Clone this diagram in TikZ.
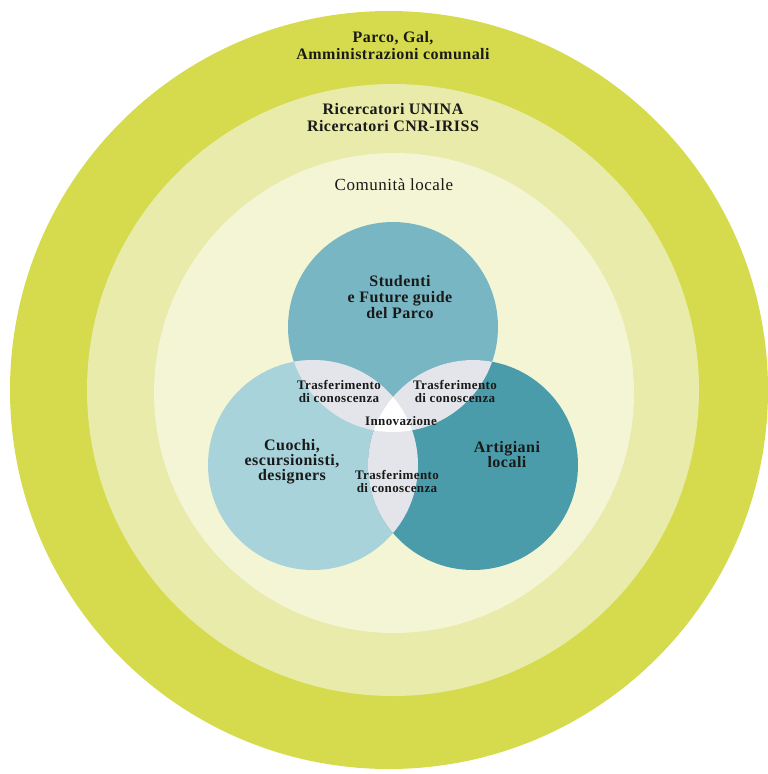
\documentclass[tikz,border=0pt]{standalone}
\usepackage{fontspec}
\setmainfont{Liberation Serif}[LetterSpace=3]
\usepackage{tikz}
\usetikzlibrary{positioning}
\definecolor{ringout}{HTML}{D5DB4D}
\definecolor{ringmid}{HTML}{E8EBA9}
\definecolor{ringin}{HTML}{F3F5D5}
\definecolor{studc}{HTML}{79B6C3}
\definecolor{cuoc}{HTML}{A8D3DB}
\definecolor{artc}{HTML}{4B9CAA}
\definecolor{lensc}{HTML}{E3E5EA}
\newcommand{\vennr}{105pt}
\newcommand{\bigf}{\fontsize{16}{17}\selectfont}
\newcommand{\smallf}{\fontsize{13}{13}\selectfont}

\begin{document}
\begin{tikzpicture}[x=1pt,y=-1pt]
            \tikzset{lab/.style = {align=center, inner sep=0pt, text=black!90, font=\bfseries\bigf}}
            \tikzset{tras/.style = {lab, font=\bfseries\smallf}}
            \useasboundingbox (0,0) rectangle (768,774);
            % anelli
            \fill[ringout] (389,390) circle (379pt);
            \fill[ringmid] (393,390) circle (306pt);
            \fill[ringin] (394,393) circle (240pt);
            % venn
            \coordinate (stud) at (393,327);
            \coordinate (cuoc) at (313,465);
            \coordinate (art) at (473,465);
            \fill[studc] (stud) circle (\vennr);
            \fill[cuoc] (cuoc) circle (\vennr);
            \fill[artc] (art) circle (\vennr);
            \begin{scope}
                \clip (stud) circle (\vennr);
                \fill[lensc] (cuoc) circle (\vennr);
                \fill[lensc] (art) circle (\vennr);
            \end{scope}
            \begin{scope}
                \clip (cuoc) circle (\vennr);
                \fill[lensc] (art) circle (\vennr);
            \end{scope}
            \begin{scope}
                \clip (stud) circle (\vennr);
                \clip (cuoc) circle (\vennr);
                \fill[white] (art) circle (\vennr);
            \end{scope}
            % testi
            \node[lab] (parco) at (393,46) {Parco, Gal,\\Amministrazioni comunali};
            \node[lab] (ricerc) at (393,118) {Ricercatori UNINA\\Ricercatori CNR-IRISS};
            \node[lab, font=\fontsize{17}{18}\selectfont] (comun) at (394,185) {Comunità locale};
            \node[lab, font=\bfseries\fontsize{16}{16}\selectfont] (studenti) at (400,297) {Studenti\\e Future guide\\del Parco};
            \node[lab, font=\bfseries\fontsize{16}{15}\selectfont] (cuochi) at (292,462) {Cuochi,\\escursionisti,\\designers};
            \node[lab, font=\bfseries\fontsize{16}{15}\selectfont] (artig) at (507,455) {Artigiani\\locali};
            \node[tras] (trasA) at (339,391) {Trasferimento\\di conoscenza};
            \node[tras] (trasB) at (455,391) {Trasferimento\\di conoscenza};
            \node[tras] (trasC) at (397,481) {Trasferimento\\di conoscenza};
            \node[tras] (innov) at (401,421) {Innovazione};
        \end{tikzpicture}
\end{document}
